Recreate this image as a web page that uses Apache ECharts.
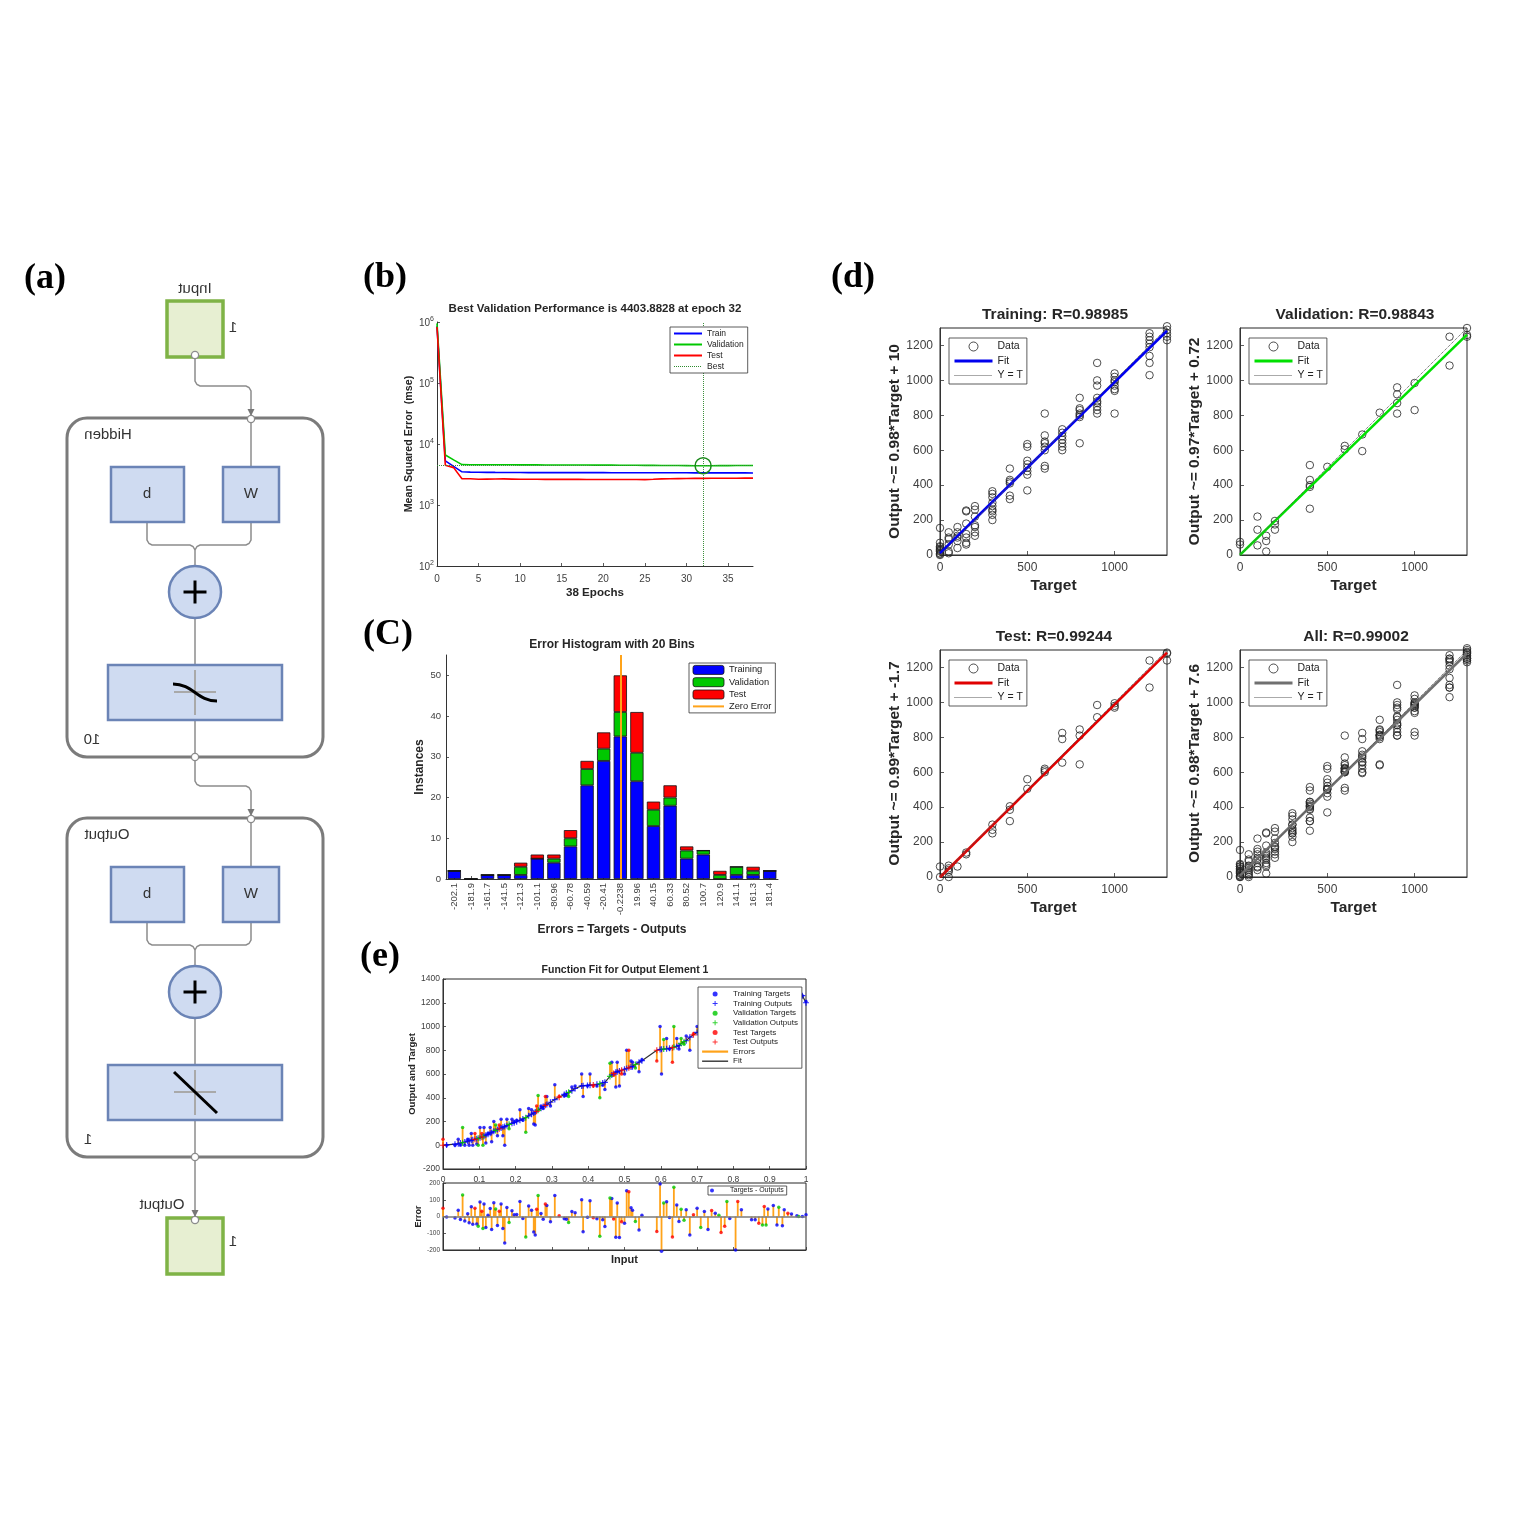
<!DOCTYPE html>
<html><head><meta charset="utf-8">
<script src="https://cdn.jsdelivr.net/npm/echarts@6/dist/echarts.min.js"></script>
<style>html,body{margin:0;padding:0;background:#fff}#c{width:1532px;height:1532px}</style>
</head><body><div id="c"></div>
<script>
// ================= DATA =================
// (b) performance
const epochs = [0,1,2,3,4,5,6,7,8,9,10,11,12,13,14,15,16,17,18,19,20,21,22,23,24,25,26,27,28,29,30,31,32,33,34,35,36,37,38];
const trainMSE = [850000,5300,4300,3500,3460,3440,3430,3420,3415,3410,3405,3400,3400,3398,3396,3395,3393,3392,3390,3389,3388,3386,3385,3384,3382,3380,3378,3376,3374,3372,3370,3368,3366,3364,3362,3360,3358,3356,3354];
const valMSE = [950000,6600,5500,4600,4580,4570,4570,4575,4580,4560,4550,4545,4540,4535,4530,4528,4525,4520,4515,4510,4505,4500,4495,4490,4480,4470,4460,4450,4440,4430,4420,4410,4403.8828,4410,4420,4428,4436,4445,4452];
const testMSE = [830000,4500,4100,2700,2690,2650,2660,2670,2680,2660,2640,2640,2640,2635,2635,2630,2630,2630,2625,2625,2625,2620,2620,2620,2615,2610,2640,2680,2700,2710,2720,2730,2735,2740,2745,2750,2752,2755,2758];
const bestEpoch = 32;
const bestPerf = 4403.8828;

// (C) error histogram
const histBins = ['-202.1','-181.9','-161.7','-141.5','-121.3','-101.1','-80.96','-60.78','-40.59','-20.41','-0.2238','19.96','40.15','60.33','80.52','100.7','120.9','141.1','161.3','181.4'];
const histTrain = [2,0,1,1,1,5,4,8,23,29,35,24,13,18,5,6,0,1,1,2];
const histVal   = [0,0,0,0,2,0,1,2,4,3,6,7,4,2,2,1,1,2,1,0];
const histTest  = [0,0,0,0,1,1,1,2,2,4,9,10,2,3,1,0,1,0,1,0];
const zeroErrorBinIndex = 10;

// (d) regression [target, output]
const regTrain = [[0,155],[0,70],[0,45],[0,30],[0,20],[0,10],[0,0],[0,5],[0,50],[0,25],[0,35],
 [50,130],[50,100],[50,90],[50,20],[50,10],[50,60],
 [100,160],[100,130],[100,110],[100,100],[100,40],[100,80],
 [150,250],[150,255],[150,180],[150,120],[150,100],[150,70],[150,60],
 [200,280],[200,260],[200,220],[200,170],[200,160],[200,130],[200,110],
 [300,365],[300,350],[300,330],[300,300],[300,280],[300,260],[300,250],[300,230],[300,200],
 [400,495],[400,430],[400,420],[400,410],[400,340],[400,320],
 [500,635],[500,620],[500,540],[500,520],[500,500],[500,480],[500,460],[500,370],
 [600,810],[600,685],[600,650],[600,640],[600,620],[600,600],[600,510],[600,495],
 [700,720],[700,700],[700,680],[700,660],[700,640],[700,620],[700,600],
 [800,900],[800,840],[800,830],[800,810],[800,800],[800,790],[800,640],
 [900,1100],[900,1000],[900,970],[900,900],[900,880],[900,870],[900,850],[900,830],[900,810],
 [1000,1040],[1000,1020],[1000,1000],[1000,990],[1000,970],[1000,950],[1000,940],[1000,810],
 [1200,1270],[1200,1250],[1200,1230],[1200,1210],[1200,1190],[1200,1140],[1200,1100],[1200,1030],
 [1300,1310],[1300,1290],[1300,1270],[1300,1250],[1300,1230]];
const regVal = [[0,75],[0,60],[100,220],[100,145],[100,55],[150,110],[150,80],[150,20],[200,195],[200,175],[200,145],
 [400,515],[400,430],[400,400],[400,390],[400,265],[500,505],[600,625],[600,605],[700,690],[700,595],[800,815],
 [900,960],[900,920],[900,870],[900,810],[1000,985],[1000,830],[1200,1250],[1200,1085],[1300,1300],[1300,1260],[1300,1250]];
const regTest = [[0,60],[0,0],[50,65],[50,50],[50,40],[50,30],[50,0],[100,60],[150,140],[150,130],
 [300,300],[300,270],[300,250],[400,405],[400,385],[400,320],[500,560],[500,505],[600,620],[600,610],[600,600],
 [700,825],[700,790],[700,655],[800,845],[800,810],[800,645],[900,985],[900,915],[1000,995],[1000,980],[1000,970],
 [1200,1240],[1200,1085],[1300,1285],[1300,1280],[1300,1240]];
const regTitles = ['Training: R=0.98985','Validation: R=0.98843','Test: R=0.99244','All: R=0.99002'];
const regYNames = ['Output ~= 0.98*Target + 10','Output ~= 0.97*Target + 0.72','Output ~= 0.99*Target + -1.7','Output ~= 0.98*Target + 7.6'];
const fitSlope = [0.98, 0.97, 0.99, 0.98];
const fitIntercept = [10, 0.72, -1.7, 7.6];
const targetRange = [0, 1300];

// (e) function fit: input, network output, target, set (0 train, 1 validation, 2 test)
const eX   = [0.000,0.010,0.033,0.042,0.048,0.054,0.060,0.068,0.072,0.078,0.082,0.088,0.093,0.097,0.102,0.107,0.110,0.113,0.118,0.124,0.130,0.134,0.140,0.145,0.150,0.155,0.160,0.165,0.170,0.176,0.182,0.190,0.196,0.203,0.212,0.220,0.228,0.236,0.244,0.250,0.254,0.258,0.262,0.270,0.276,0.282,0.286,0.296,0.308,0.320,0.334,0.340,0.346,0.355,0.364,0.382,0.386,0.398,0.405,0.414,0.424,0.432,0.440,0.446,0.460,0.465,0.470,0.476,0.480,0.486,0.492,0.500,0.506,0.512,0.518,0.522,0.530,0.540,0.548,0.589,0.598,0.602,0.608,0.616,0.624,0.632,0.636,0.644,0.650,0.656,0.664,0.670,0.680,0.690,0.700,0.710,0.720,0.730,0.740,0.750,0.760,0.766,0.776,0.782,0.790,0.806,0.812,0.822,0.850,0.860,0.870,0.880,0.885,0.890,0.895,0.910,0.920,0.925,0.935,0.940,0.950,0.960,0.975,0.980,0.990,1.000];
const eOut = [0,3,9,12,18,22,27,34,38,42,46,50,55,58,63,68,72,76,85,92,102,108,118,125,133,139,145,152,158,166,176,185,190,198,210,222,232,248,262,272,280,286,294,312,326,336,344,362,385,405,428,437,446,460,478,500,501,504,506,508,513,518,525,530,580,592,605,614,620,626,632,640,646,652,658,662,680,700,712,800,806,808,810,812,816,822,826,832,840,856,872,880,910,930,950,965,980,988,994,1000,1003,1005,1008,1010,1012,1030,1040,1060,1120,1140,1160,1180,1190,1200,1205,1225,1240,1245,1255,1260,1270,1285,1296,1300,1260,1200];
const eTgt = [50,0,0,50,0,150,0,50,0,100,0,100,10,0,150,100,0,150,20,100,150,30,200,170,80,170,220,80,0,220,140,220,200,210,300,210,110,310,300,180,170,330,420,330,310,410,410,330,510,410,415,420,410,490,500,600,410,500,600,500,500,400,505,470,690,700,590,490,700,500,600,600,800,800,710,700,650,620,720,710,1000,600,890,900,810,700,1000,900,810,900,850,920,800,940,1000,900,1010,910,1030,1020,1010,910,950,1100,1000,830,1130,1100,1100,1120,1120,1130,1250,1150,1250,1290,1190,1300,1200,1300,1290,1300,1300,1300,1260,1210];
const eSet = [2,0,0,0,0,1,0,0,0,0,0,2,0,1,0,2,1,0,0,0,0,0,0,1,0,2,0,0,0,0,1,0,0,0,0,0,1,0,0,0,0,2,1,0,0,2,0,0,0,2,0,0,1,0,0,0,0,0,0,2,0,1,0,0,1,0,2,0,0,0,2,0,0,2,0,0,1,0,0,2,0,0,1,0,0,2,1,0,0,1,1,0,0,2,0,1,0,0,2,0,1,2,2,1,0,0,2,0,0,0,2,1,2,1,0,0,0,1,0,0,2,0,0,1,0,0];

// ================= STYLE HELPERS =================
const FONT = '"Liberation Sans", Arial, Helvetica, sans-serif';
const SERIF = '"Liberation Serif", "Times New Roman", serif';
const stripName = n => n.split('|')[0];
const BLUE = '#0000ff', GREEN = '#00c800', RED = '#ff0000', ORANGE = '#ffa31a';
const setColors = [BLUE, GREEN, RED];
const PLUS = 'path://M4,0H6V4H10V6H6V10H4V6H0V4H4Z';
const plainNum = v => String(Math.round(v * 1e6) / 1e6);

function mkAxis(gi, type, o) {
  const a = {
    gridIndex: gi, type: type, splitLine: {show: false},
    axisLine: {show: true, onZero: false, lineStyle: {color: '#333', width: 1}},
    axisTick: {show: true, inside: true, length: o.tickLen || 3, lineStyle: {color: '#333', width: 0.8}},
    axisLabel: Object.assign({color: '#404040', fontSize: 9, margin: 4, fontFamily: FONT}, type === 'value' ? {formatter: plainNum} : {}, o.label || {}),
    nameTextStyle: Object.assign({color: '#262626', fontWeight: 'bold', fontSize: 12, fontFamily: FONT}, o.nameStyle || {}),
    nameLocation: 'middle'
  };
  ['min','max','interval','name','nameGap','data','logBase','position','nameRotate'].forEach(k => { if (o[k] !== undefined) a[k] = o[k]; });
  if (o.tick) Object.assign(a.axisTick, o.tick);
  return a;
}

const boxGrid = g => Object.assign({show: true, borderColor: '#262626', borderWidth: 1, backgroundColor: '#fff'}, g);
const grids = [
  {left: 437, top: 322, width: 316, height: 244},          // 0 (b)
  {left: 446, top: 655, width: 332, height: 224},          // 1 (C)
  boxGrid({left: 940, top: 328, width: 227, height: 227}), // 2 d train
  boxGrid({left: 1240, top: 328, width: 227, height: 227}),// 3 d val
  boxGrid({left: 940, top: 650, width: 227, height: 227}), // 4 d test
  boxGrid({left: 1240, top: 650, width: 227, height: 227}),// 5 d all
  boxGrid({left: 443, top: 979, width: 363, height: 190}), // 6 e top
  boxGrid({left: 443, top: 1183, width: 363, height: 67})  // 7 e bottom
];

const xAxes = [], yAxes = [], series = [], legends = [];
// legend entry for a line series: show only the line, no centre symbol
const lineItem = (n, w, type, color) => {
  const it = {name: n, itemStyle: {color: 'rgba(0,0,0,0)', borderColor: 'rgba(0,0,0,0)', borderWidth: 0}};
  if (w) {
    it.lineStyle = {width: w, type: type || 'solid'};
    if (color) it.lineStyle.color = color;
  }
  return it;
};

// ---------- (b) ----------
xAxes.push(mkAxis(0, 'value', {min: 0, max: 38, interval: 5, name: '38 Epochs', nameGap: 21,
  label: {fontSize: 10, margin: 8, showMaxLabel: false}, nameStyle: {fontSize: 11.6}}));
yAxes.push(mkAxis(0, 'log', {min: 100, max: 1000000, logBase: 10, name: 'Mean Squared Error  (mse)', nameGap: 22,
  nameStyle: {fontSize: 10.7},
  label: {margin: 3, formatter: v => '{b|10}{s|' + Math.round(Math.log10(v)) + '}',
    rich: {b: {fontSize: 10, color: '#404040', verticalAlign: 'bottom', lineHeight: 13},
           s: {fontSize: 7, color: '#404040', verticalAlign: 'top', lineHeight: 13}}}}));
const perfLine = (name, ys, color) => ({type: 'line', name: name, xAxisIndex: 0, yAxisIndex: 0,
  data: epochs.map((e, i) => [e, ys[i]]), symbol: 'none', lineStyle: {color: color, width: 1.6}, itemStyle: {color: color}, z: 3});
series.push(perfLine('Train', trainMSE, BLUE));
series.push(perfLine('Validation', valMSE, GREEN));
series.push(perfLine('Test', testMSE, RED));
series.push({type: 'line', name: 'Best', xAxisIndex: 0, yAxisIndex: 0, data: [[bestEpoch, bestPerf]], symbol: 'none',
  lineStyle: {color: '#2e8b2e', width: 1, type: 'dotted'}, itemStyle: {color: '#2e8b2e'}, z: 4,
  markLine: {silent: true, symbol: 'none', animation: false, label: {show: false},
    lineStyle: {color: '#3d8f3d', width: 1, type: 'dotted'}, data: [{xAxis: bestEpoch}, {yAxis: bestPerf}]},
  markPoint: {symbol: 'circle', symbolSize: 16, animation: false, label: {show: false},
    itemStyle: {color: 'rgba(0,0,0,0)', borderColor: '#1b8a1b', borderWidth: 1.5},
    data: [{coord: [bestEpoch, bestPerf]}]}});
legends.push({orient: 'vertical', left: 670, top: 327,
  data: [lineItem('Train', 2), lineItem('Validation', 2), lineItem('Test', 2), lineItem('Best', 1, 'dotted', '#2e8b2e')],
  itemWidth: 28, itemHeight: 8, itemGap: 2, padding: [2, 4, 2, 3],
  textStyle: {fontSize: 8.5, color: '#222', fontFamily: FONT}});

// ---------- (C) ----------
xAxes.push(mkAxis(1, 'category', {data: histBins, name: 'Errors = Targets - Outputs', nameGap: 45,
  label: {rotate: 90, interval: 0, fontSize: 9.5, margin: 4}, tick: {alignWithLabel: true, interval: 0}}));
xAxes[1].boundaryGap = true;
yAxes.push(mkAxis(1, 'value', {min: 0, max: 55, interval: 10, name: 'Instances', nameGap: 20,
  label: {fontSize: 9.5, margin: 5, showMaxLabel: false}}));
const histBar = (name, vals, color) => ({type: 'bar', name: name, xAxisIndex: 1, yAxisIndex: 1, stack: 'hist',
  data: vals, barCategoryGap: '20%', itemStyle: {color: color, borderColor: '#111', borderWidth: 0.8}});
series.push(histBar('Training|h', histTrain, BLUE));
series.push(histBar('Validation|h', histVal, GREEN));
series.push(histBar('Test|h', histTest, RED));
series.push({type: 'line', name: 'Zero Error', xAxisIndex: 1, yAxisIndex: 1, data: [], symbol: 'none',
  lineStyle: {color: ORANGE, width: 2}, itemStyle: {color: ORANGE}, z: 5,
  markLine: {silent: true, symbol: 'none', animation: false, label: {show: false},
    lineStyle: {color: ORANGE, width: 2, type: 'solid'}, data: [{xAxis: zeroErrorBinIndex}]}});
const legRect = (n, c) => ({name: n, itemStyle: {color: c, borderColor: '#111', borderWidth: 0.8}});
legends.push({orient: 'vertical', left: 689, top: 663,
  data: [legRect('Training|h', BLUE), legRect('Validation|h', GREEN), legRect('Test|h', RED), lineItem('Zero Error', 2)],
  itemWidth: 31, itemHeight: 9, itemGap: 2.5, padding: [2, 4, 2, 3],
  textStyle: {fontSize: 9.3, color: '#222', fontFamily: FONT}});

// ---------- (d) ----------
const regSets = [regTrain, regVal, regTest, regTrain.concat(regVal, regTest)];
const regColors = ['#0000ee', '#00e000', '#e00000', '#707070'];
const regKeys = ['tr', 'va', 'te', 'al'];
const regLegPos = [[949, 338], [1249, 338], [949, 660], [1249, 660]];
for (let k = 0; k < 4; k++) {
  const gi = 2 + k;
  xAxes.push(mkAxis(gi, 'value', {min: 0, max: 1300, interval: 500, name: 'Target', nameGap: 23,
    nameStyle: {fontSize: 15.5}, label: {fontSize: 12, margin: 7, showMaxLabel: false}, tickLen: 4}));
  yAxes.push(mkAxis(gi, 'value', {min: 0, max: 1300, interval: 200, name: regYNames[k], nameGap: 37,
    nameStyle: {fontSize: 15.5}, label: {fontSize: 12, margin: 7, showMaxLabel: false}, tickLen: 4}));
  const key = regKeys[k];
  series.push({type: 'scatter', name: 'Data|' + key, xAxisIndex: gi, yAxisIndex: gi, data: regSets[k],
    symbol: 'circle', symbolSize: 7.5, clip: false,
    itemStyle: {color: 'rgba(0,0,0,0)', borderColor: '#222', borderWidth: 1}, z: 2});
  series.push({type: 'line', name: 'Fit|' + key, xAxisIndex: gi, yAxisIndex: gi,
    data: targetRange.map(t => [t, fitSlope[k] * t + fitIntercept[k]]), symbol: 'none',
    lineStyle: {color: regColors[k], width: 2.6}, itemStyle: {color: regColors[k]}, z: 3});
  series.push({type: 'line', name: 'Y = T|' + key, xAxisIndex: gi, yAxisIndex: gi,
    data: targetRange.map(t => [t, t]), symbol: 'none',
    lineStyle: {color: '#555', width: 1, type: 'dotted'}, itemStyle: {color: '#555'}, z: 4});
  legends.push({orient: 'vertical', left: regLegPos[k][0], top: regLegPos[k][1],
    data: [{name: 'Data|' + key, icon: 'circle', itemStyle: {color: 'rgba(0,0,0,0)', borderColor: '#222', borderWidth: 1}},
           lineItem('Fit|' + key, 3), lineItem('Y = T|' + key, 1, 'dotted', '#555')],
    itemWidth: 38, itemHeight: 9, itemGap: 3.5, padding: [3, 4, 3, 4],
    textStyle: {fontSize: 10.5, color: '#222', fontFamily: FONT}});
}

// ---------- (e) ----------
xAxes.push(mkAxis(6, 'value', {min: 0, max: 1, interval: 0.1, label: {fontSize: 8.5, margin: 6}}));
yAxes.push(mkAxis(6, 'value', {min: -200, max: 1400, interval: 200, name: 'Output and Target', nameGap: 26,
  nameStyle: {fontSize: 9.5}, label: {fontSize: 8.5, margin: 3}}));
xAxes.push(mkAxis(7, 'value', {min: 0, max: 1, interval: 0.1, name: 'Input', nameGap: 4,
  nameStyle: {fontSize: 11}, label: {show: false}}));
yAxes.push(mkAxis(7, 'value', {min: -200, max: 200, interval: 100, name: 'Error', nameGap: 17,
  nameStyle: {fontSize: 9}, label: {fontSize: 6.5, margin: 3}}));

const idxBySet = s => eX.map((x, i) => i).filter(i => eSet[i] === s);
const errSegTop = [], errStems = [];
eX.forEach((x, i) => {
  errSegTop.push([x, eOut[i]], [x, eTgt[i]], [x, '-']);
  errStems.push([x, 0], [x, eTgt[i] - eOut[i]], [x, '-']);
});
series.push({type: 'line', name: 'Errors', xAxisIndex: 6, yAxisIndex: 6, data: errSegTop, symbol: 'none',
  connectNulls: false, lineStyle: {color: ORANGE, width: 1.8}, itemStyle: {color: ORANGE}, z: 2});
series.push({type: 'line', name: 'Fit|e', xAxisIndex: 6, yAxisIndex: 6, data: eX.map((x, i) => [x, eOut[i]]),
  symbol: 'none', lineStyle: {color: '#333', width: 1.2}, itemStyle: {color: '#333'}, z: 3});
const setNames = ['Training', 'Validation', 'Test'];
for (let s = 0; s < 3; s++) {
  const ids = idxBySet(s);
  series.push({type: 'scatter', name: setNames[s] + ' Targets', xAxisIndex: 6, yAxisIndex: 6,
    data: ids.map(i => [eX[i], eTgt[i]]), symbol: 'circle', symbolSize: 3.5, clip: false,
    itemStyle: {color: setColors[s]}, z: 4});
  series.push({type: 'scatter', name: setNames[s] + ' Outputs', xAxisIndex: 6, yAxisIndex: 6,
    data: ids.map(i => [eX[i], eOut[i]]), symbol: PLUS, symbolSize: 6, clip: false,
    itemStyle: {color: setColors[s]}, z: 5});
}
series.push({type: 'line', name: 'stems|b', xAxisIndex: 7, yAxisIndex: 7, data: errStems, symbol: 'none',
  connectNulls: false, lineStyle: {color: ORANGE, width: 1.8}, itemStyle: {color: ORANGE}, z: 2,
  markLine: {silent: true, symbol: 'none', animation: false, label: {show: false},
    lineStyle: {color: '#7a7a7a', width: 1.6, type: 'solid'}, data: [{yAxis: 0}]}});
for (let s = 0; s < 3; s++) {
  const ids = idxBySet(s);
  series.push({type: 'scatter', name: s === 0 ? 'Targets - Outputs' : 'err|' + s, xAxisIndex: 7, yAxisIndex: 7,
    data: ids.map(i => [eX[i], eTgt[i] - eOut[i]]), symbol: 'circle', symbolSize: 3.5, clip: false,
    itemStyle: {color: setColors[s]}, z: 4});
}
legends.push({orient: 'vertical', left: 698, top: 987,
  data: ['Training Targets','Training Outputs','Validation Targets','Validation Outputs','Test Targets','Test Outputs',
         lineItem('Errors', 2.2), lineItem('Fit|e', 1.4)],
  itemWidth: 26, itemHeight: 5, itemGap: 1.6, padding: [3, 4, 3, 3],
  textStyle: {fontSize: 8, color: '#222', fontFamily: FONT}});
legends.push({orient: 'vertical', left: 708, top: 1186, data: ['Targets - Outputs'],
  itemWidth: 26, itemHeight: 4, padding: [1, 3, 1, 2],
  textStyle: {fontSize: 7, color: '#222', fontFamily: FONT}});

legends.forEach(l => Object.assign(l, {selectedMode: false, borderColor: '#333', borderWidth: 0.8,
  backgroundColor: '#fff', borderRadius: 0, formatter: stripName, z: 10}));

// ================= GRAPHIC (titles, panel labels, diagram) =================
const G = [];
const txt = (x, y, t, font, fill, extra) => G.push(Object.assign({type: 'text', x: x, y: y, z: 100,
  style: {text: t, align: 'center', verticalAlign: 'middle', font: font, fill: fill || '#262626'}}, extra || {}));
const bold = s => 'bold ' + s + 'px ' + FONT;
// panel labels
[['(a)', 45, 279], ['(b)', 385, 278], ['(C)', 388, 635], ['(d)', 853, 278], ['(e)', 380, 957]]
  .forEach(p => txt(p[1], p[2], p[0], 'bold 36px ' + SERIF, '#000'));
// titles
txt(595, 309, 'Best Validation Performance is 4403.8828 at epoch 32', bold(11.5));
txt(612, 645, 'Error Histogram with 20 Bins', bold(12));
txt(1055, 315, regTitles[0], bold(15.5));
txt(1355, 315, regTitles[1], bold(15.5));
txt(1054, 637, regTitles[2], bold(15.5));
txt(1356, 637, regTitles[3], bold(15.5));
txt(625, 970, 'Function Fit for Output Element 1', bold(10.5));

// diagram (mirrored network view)
const GRAY = '#8c8c8c';
const mir = (x, y, t) => txt(x, y, t, '15px ' + FONT, '#333', {scaleX: -1});
const ln = (x1, y1, x2, y2, c, w, z) => G.push({type: 'line', z: z || 20, shape: {x1, y1, x2, y2}, style: {stroke: c || GRAY, lineWidth: w || 1.5}});
const pl = (pts) => G.push({type: 'polyline', z: 20, shape: {points: pts}, style: {stroke: GRAY, lineWidth: 1.5, fill: 'none'}});
const dot = (cx, cy) => G.push({type: 'circle', z: 40, shape: {cx, cy, r: 3.6}, style: {fill: '#fff', stroke: GRAY, lineWidth: 1.3}});
const arrow = (x, y) => G.push({type: 'polygon', z: 35, shape: {points: [[x - 3.5, y - 7], [x + 3.5, y - 7], [x, y]]}, style: {fill: '#777'}});
const rect = (x, y, w, h, fill, stroke, lw, r) => G.push({type: 'rect', z: 30, shape: {x, y, width: w, height: h, r: r || 0}, style: {fill: fill, stroke: stroke, lineWidth: lw}});
const LB = '#cfdbf1', LBS = '#6b84b6';
const elbow = (y0) => pl([[195, y0], [195, y0 + 24], [197, y0 + 27.5], [200, y0 + 29], [246, y0 + 29], [249, y0 + 30.5], [251, y0 + 34], [251, y0 + 61]]);

// input node
mir(195, 289, 'Input');
rect(167, 301, 56, 56, '#e7efd2', '#7fb346', 3.5);
mir(233, 328, '1');
elbow(357); arrow(251, 416);
dot(195, 355);

function layer(dy, title, size, fn) {
  rect(67, 418 + dy, 256, 339, 'none', '#7b7b7b', 3, 20);
  mir(title === 'Hidden' ? 108 : 107, 435 + dy, title);
  mir(size === '10' ? 92 : 88, 740 + dy, size);
  ln(251, 419 + dy, 251, 467 + dy);
  rect(111, 467 + dy, 73, 55, LB, LBS, 2.5);
  rect(223, 467 + dy, 56, 55, LB, LBS, 2.5);
  mir(147, 494 + dy, 'b');
  mir(251, 494 + dy, 'W');
  pl([[147, 522 + dy], [147, 540 + dy], [149, 543.5 + dy], [152, 545 + dy], [190, 545 + dy], [193, 546.5 + dy], [195, 550 + dy]]);
  pl([[251, 522 + dy], [251, 540 + dy], [249, 543.5 + dy], [246, 545 + dy], [200, 545 + dy], [197, 546.5 + dy], [195, 550 + dy]]);
  ln(195, 550 + dy, 195, 566 + dy);
  G.push({type: 'circle', z: 30, shape: {cx: 195, cy: 592 + dy, r: 26}, style: {fill: LB, stroke: LBS, lineWidth: 2.5}});
  ln(183.5, 592 + dy, 206.5, 592 + dy, '#000', 3, 45);
  ln(195, 580.5 + dy, 195, 603.5 + dy, '#000', 3, 45);
  ln(195, 618 + dy, 195, 665 + dy);
  rect(108, 665 + dy, 174, 55, LB, LBS, 2.5);
  ln(174, 692 + dy, 216, 692 + dy, '#a9a9a9', 2, 45);
  ln(195, 670 + dy, 195, 715 + dy, '#a9a9a9', 2, 45);
  fn(dy);
  ln(195, 720 + dy, 195, 757 + dy);
  dot(195, 757 + dy);
  dot(251, 419 + dy);
}
layer(0, 'Hidden', '10', dy => G.push({type: 'bezierCurve', z: 50,
  shape: {x1: 173, y1: 684 + dy, cpx1: 193, cpy1: 684 + dy, cpx2: 197, cpy2: 701 + dy, x2: 217, y2: 701 + dy},
  style: {stroke: '#000', lineWidth: 3, fill: 'none'}}));
elbow(757); arrow(251, 816);
layer(400, 'Output', '1', dy => ln(174, 672 + dy, 217, 713 + dy, '#000', 3, 50));
ln(195, 1157, 195, 1218);
arrow(195, 1217);
mir(162, 1205, 'Output');
rect(167, 1218, 56, 56, '#e7efd2', '#7fb346', 3.5);
mir(233, 1242, '1');
dot(195, 1220);

// ================= CHART =================
const chart = echarts.init(document.getElementById('c'), null, {renderer: 'canvas'});
chart.setOption({
  animation: false,
  backgroundColor: '#fff',
  textStyle: {fontFamily: FONT},
  grid: grids,
  xAxis: xAxes,
  yAxis: yAxes,
  legend: legends,
  series: series,
  graphic: {elements: G}
});
</script>
</body></html>
